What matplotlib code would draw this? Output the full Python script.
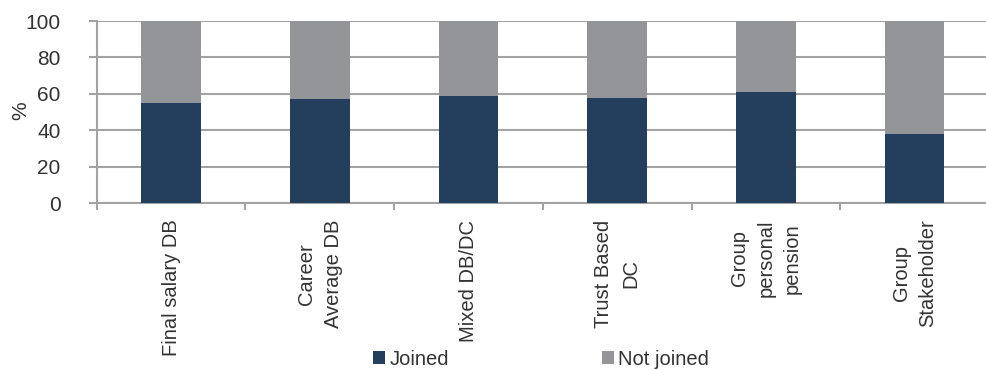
import matplotlib
matplotlib.use("Agg")
import matplotlib.pyplot as plt
import numpy as np

categories = ["Final salary DB", "Career\nAverage DB", "Mixed DB/DC",
              "Trust Based\nDC", "Group\npersonal\npension", "Group\nStakeholder"]
joined = [55, 57, 59, 58, 61, 38]
not_joined = [100 - v for v in joined]
yticks = [0, 20, 40, 60, 80, 100]

navy = "#243E5E"
grey = "#939598"
line_grey = "#A3A3A3"
text_col = "#333333"
fsize = 14.5

plt.rcParams["font.family"] = ["Liberation Sans", "DejaVu Sans"]

fig = plt.figure(figsize=(9.87, 3.70), dpi=100)
ax = fig.add_axes([0.098, 0.451, 0.904, 0.492])

x = np.arange(len(categories))
ax.bar(x, joined, width=0.4, color=navy, zorder=3, label="Joined")
ax.bar(x, not_joined, width=0.4, bottom=joined, color=grey, zorder=3, label="Not joined")

ax.set_xlim(-0.5, len(categories) - 0.5)
ax.set_ylim(0, 100)
ax.set_yticks(yticks)
ax.set_yticklabels([str(v) for v in yticks], fontsize=15, color=text_col)
ax.yaxis.grid(True, color=line_grey, linewidth=1.5, zorder=0)
ax.tick_params(axis="y", length=6, width=1.5, color=line_grey, pad=20)

# category boundaries get the tick marks; labels are placed as separate text
ax.set_xticks(np.arange(len(categories) + 1) - 0.5)
ax.set_xticklabels([])
ax.tick_params(axis="x", length=5, width=1.5, color=line_grey)

for s in ["top", "right"]:
    ax.spines[s].set_visible(False)
for s in ["left", "bottom"]:
    ax.spines[s].set_color(line_grey)
    ax.spines[s].set_linewidth(1.5)

trans = ax.get_xaxis_transform()
for xi, label in zip(x, categories):
    ax.text(xi, -0.09, label, transform=trans, rotation=90, ha="center", va="top",
            multialignment="center", fontsize=fsize, color=text_col, linespacing=1.5)

fig.text(0.021, 0.70, "%", rotation=90, ha="center", va="center",
         fontsize=15, color=text_col)

leg = fig.legend(loc="lower center", bbox_to_anchor=(0.548, -0.045), ncol=2, frameon=False,
                 fontsize=fsize, handlelength=0.6, handleheight=0.6, handletextpad=0.2,
                 columnspacing=7.6)
for t in leg.get_texts():
    t.set_color(text_col)

fig.savefig("out.png", dpi=100)
